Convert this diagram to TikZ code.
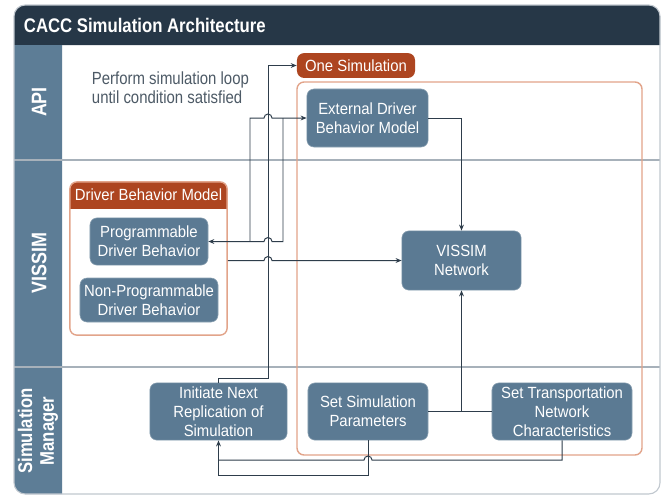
\documentclass[tikz,border=0pt]{standalone}
\usepackage{fontspec}
\setmainfont{Liberation Sans}[FakeStretch=0.92]
\newfontfamily\narrowfont{Liberation Sans}[FakeStretch=0.85]
\usetikzlibrary{arrows.meta,positioning,calc}
\usepackage{xcolor}
\definecolor{hdrnavy}{HTML}{263747}
\definecolor{lanebg}{HTML}{5D7D96}
\definecolor{boxbg}{HTML}{5B7A93}
\definecolor{tagred}{HTML}{AD4520}
\definecolor{frameor}{HTML}{E2A48A}
\definecolor{divgray}{HTML}{A7B1BA}
\definecolor{wire}{HTML}{2E3D4B}

\begin{document}
\begin{tikzpicture}[
    x=0.025cm, y=-0.025cm,
    blk/.style={fill=boxbg, draw=boxbg!70!white, rounded corners=5pt, text=white, align=center, font=\fontsize{11.5}{13.5}\selectfont, inner sep=2pt},
    tag/.style={text=white, align=center, font=\fontsize{11.5}{13}\selectfont},
    lane/.style={text=white, align=center, font=\narrowfont\fontsize{15}{15.5}\selectfont\bfseries, rotate=90},
    grp/.style={draw=frameor, line width=1pt, rounded corners=5pt},
    line/.style={draw=wire, line width=0.7pt},
    flow/.style={line, -{Stealth[length=1.5mm,width=1.2mm]}}
]
\useasboundingbox (0,0) rectangle (662,496);

% frame, header and lanes
\fill[white, rounded corners=8pt] (14,5) rectangle (660,494);
\fill[hdrnavy] (14,45) [rounded corners=8pt] -- (14,5) -- (660,5) [sharp corners] -- (660,45) -- cycle;
\fill[lanebg] (62,45) -- (14,45) [rounded corners=8pt] -- (14,494) [sharp corners] -- (62,494) -- cycle;
\draw[divgray, line width=1.5pt] (14,160) -- (660,160);
\draw[divgray, line width=1.5pt] (14,367) -- (660,367);
\draw[divgray!70!white, line width=0.8pt, rounded corners=8pt] (14,5) rectangle (660,494);
\node[anchor=west, text=white, font=\narrowfont\fontsize{14}{15}\selectfont\bfseries] (title) at (19,25) {CACC Simulation Architecture};

\node[lane] (lapi) at (39,102) {API};
\node[lane] (lvis) at (39,263) {VISSIM};
\node[lane, font=\narrowfont\fontsize{14}{15.5}\selectfont\bfseries] (lsim) at (38,431) {Simulation\\Manager};

\node[anchor=west, align=left, font=\narrowfont\fontsize{12.5}{13.5}\selectfont, text=wire!85] (loopnote) at (87,88) {Perform simulation loop\\until condition satisfied};

% one simulation group
\draw[grp] (297,82) rectangle (642,455);
\node[tag, fill=tagred, rounded corners=5pt, minimum width=2.95cm, minimum height=0.62cm] (onesim) at (356,65.5) {One Simulation};

% driver behavior model group
\begin{scope}
  \clip (70,182) rectangle (227,208);
  \fill[tagred, rounded corners=5pt] (70,182) rectangle (227,230);
\end{scope}
\node[grp, minimum width=3.93cm, minimum height=3.83cm] (dbm) at (148.5,258.5) {};
\node[tag] (dbmtag) at (148.5,195) {Driver Behavior Model};

% boxes
\node[blk, minimum width=3.03cm, minimum height=1.45cm] (ext) at (367.5,118) {External Driver\\Behavior Model};
\node[blk, minimum width=2.95cm, minimum height=1.18cm] (prog) at (149,241.5) {Programmable\\Driver Behavior};
\node[blk, minimum width=3.45cm, minimum height=1.1cm] (nonprog) at (149,300) {Non-Programmable\\Driver Behavior};
\node[blk, minimum width=2.98cm, minimum height=1.48cm] (vnet) at (461.5,260.5) {VISSIM\\Network};
\node[blk, minimum width=3.43cm, minimum height=1.43cm] (init) at (218.5,411.5) {Initiate Next\\Replication of\\Simulation};
\node[blk, minimum width=3.0cm, minimum height=1.43cm] (setpar) at (368,411.5) {Set Simulation\\Parameters};
\node[blk, minimum width=3.5cm, minimum height=1.43cm] (settrans) at (562,411.5) {Set Transportation\\Network\\Characteristics};

% connectors
\coordinate (turn) at (268,378);
\coordinate (lpl) at (250,0);
\coordinate (lpr) at (283,0);
\coordinate (btma) at (0,475);
\coordinate (btmb) at (0,460);

\draw[flow] (ext.east) -| (vnet.north);
\draw[line] (setpar.east) -- (settrans.west);
\draw[flow] (setpar.east -| vnet.south) -- (vnet.south);
\draw[flow] (dbm.east |- vnet.west) -- ($(turn |- vnet.west)+(-4,0)$) arc[start angle=180, end angle=360, radius=4] -- (vnet.west);
\draw[flow] (lpl |- prog.east) -- (lpl |- ext.west) -- ($(turn |- ext.west)+(-4,0)$) arc[start angle=180, end angle=360, radius=4] -- (ext.west);
\draw[flow] (lpr |- ext.west) -- (lpr |- prog.east) -- ($(turn |- prog.east)+(4,0)$) arc[start angle=0, end angle=-180, radius=4] -- (prog.east);
\draw[flow] (init.north) |- (turn) |- (onesim.west);
\draw[flow] (setpar.south) -- (setpar.south |- btma) -| (init.south);
\draw[line] (settrans.south) |- ($(setpar.south |- btmb)+(4,0)$) arc[start angle=0, end angle=-180, radius=4] -- (init.south |- btmb);
\end{tikzpicture}
\end{document}
